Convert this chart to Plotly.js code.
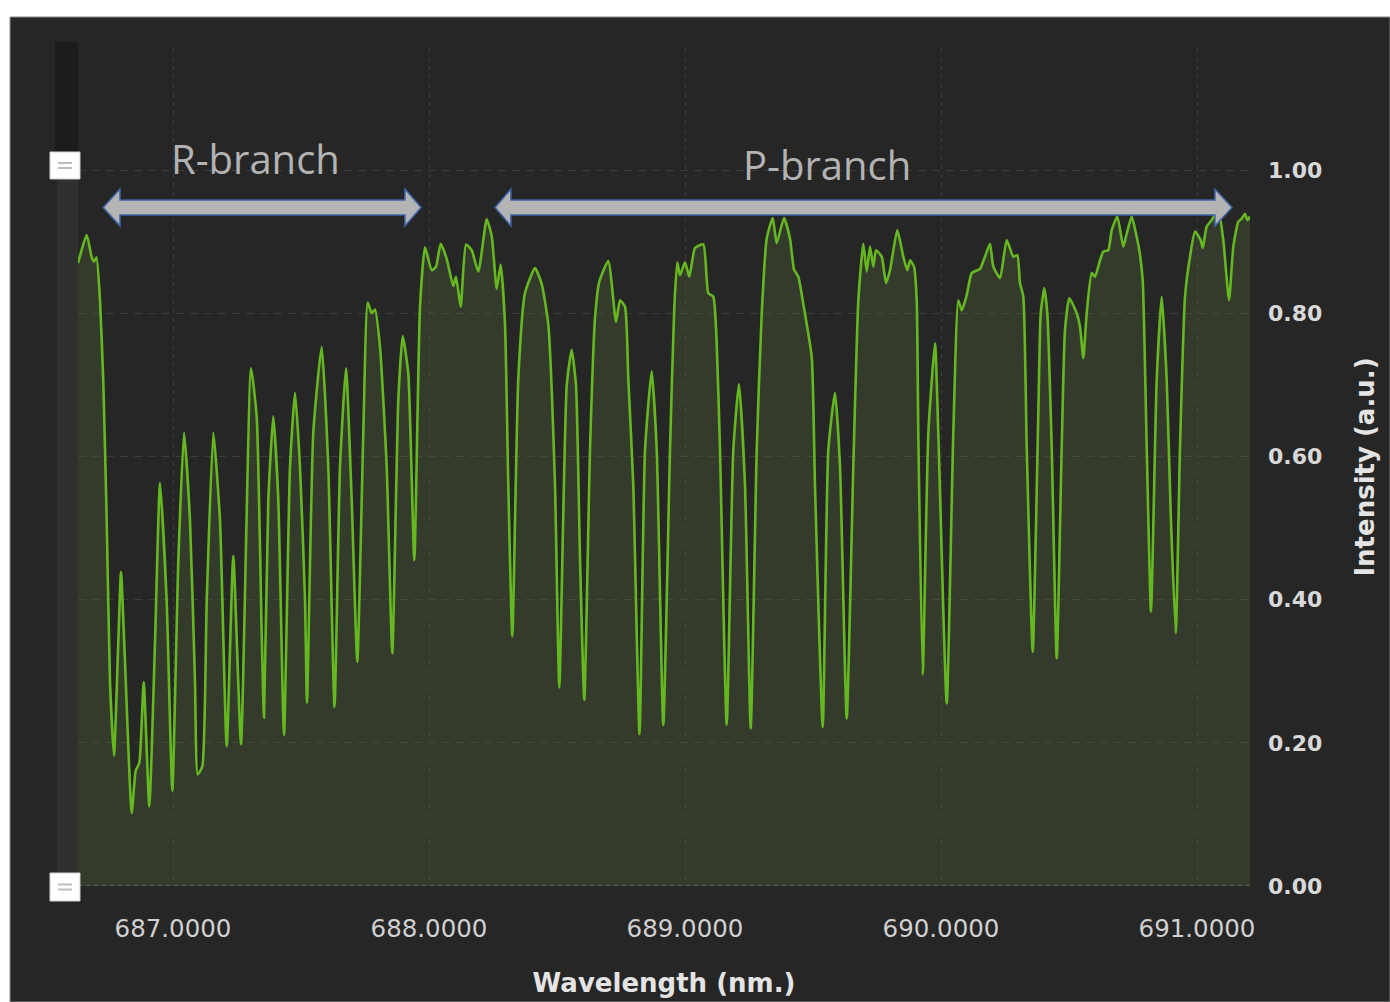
<!DOCTYPE html>
<html><head><meta charset="utf-8">
<script src="https://cdn.plot.ly/plotly-3.0.1.min.js"></script>
<style>html,body{margin:0;padding:0;background:#fff;}#chart{width:1390px;height:1002px;}</style>
</head><body><div id="chart"></div>
<script>
// Spectrum values
const wavelength = [
686.6289,686.6629,686.6824,686.6914,686.7012,686.7148,686.7277,686.7410,686.7539,686.7695,
686.7863,686.7969,686.8125,686.8387,686.8543,686.8684,686.8855,686.9074,686.9297,686.9492,
686.9754,686.9973,687.0207,687.0430,687.0664,687.0859,687.0965,687.1145,687.1316,687.1574,
687.1836,687.2098,687.2355,687.2656,687.3047,687.3270,687.3465,687.3555,687.3723,687.3918,
687.4113,687.4336,687.4570,687.4766,687.4961,687.5156,687.5234,687.5480,687.5809,687.6066,
687.6309,687.6523,687.6758,687.6980,687.7199,687.7434,687.7605,687.7762,687.7891,687.8086,
687.8348,687.8566,687.8801,687.8973,687.9191,687.9426,687.9648,687.9844,688.0105,688.0273,
688.0457,688.0691,688.0949,688.1055,688.1238,688.1445,688.1668,688.1926,688.2254,688.2449,
688.2645,688.2801,688.2969,688.3098,688.3254,688.3488,688.3750,688.4141,688.4402,688.4660,
688.4922,688.5090,688.5379,688.5574,688.5742,688.5898,688.6066,688.6289,688.6484,688.6652,
688.7004,688.7305,688.7461,688.7656,688.7785,688.7980,688.8223,688.8438,688.8699,688.8895,
688.9152,688.9414,688.9582,688.9699,688.9805,689.0000,689.0168,689.0391,689.0715,689.0910,
689.1105,689.1238,689.1367,689.1629,689.1887,689.2109,689.2344,689.2566,689.2801,689.2996,
689.3191,689.3426,689.3582,689.3867,689.4102,689.4258,689.4426,689.4621,689.4949,689.5078,
689.5379,689.5598,689.5859,689.6055,689.6316,689.6574,689.6770,689.6965,689.7098,689.7227,
689.7355,689.7461,689.7684,689.7852,689.8008,689.8293,689.8527,689.8684,689.8789,689.8945,
689.9051,689.9113,689.9285,689.9504,689.9766,689.9895,690.0223,690.0480,690.0676,690.0809,
690.1004,690.1199,690.1523,690.1719,690.1914,690.2043,690.2305,690.2566,690.2824,690.2980,
690.3086,690.3215,690.3348,690.3582,690.3801,690.3895,690.4035,690.4152,690.4324,690.4520,
690.4715,690.4844,690.5012,690.5301,690.5430,690.5559,690.5691,690.5887,690.6016,690.6211,
690.6340,690.6535,690.6668,690.6887,690.7121,690.7254,690.7449,690.7617,690.7746,690.7879,
690.8035,690.8203,690.8426,690.8621,690.8816,690.8973,690.9168,690.9336,690.9531,690.9727,
690.9922,691.0145,691.0223,691.0379,691.0574,691.0832,691.1027,691.1250,691.1418,691.1613,
691.1746,691.1875,691.1965,691.2070
];
const intensity = [
0.870,0.909,0.878,0.872,0.878,0.818,0.705,0.510,0.285,0.182,
0.340,0.439,0.313,0.102,0.161,0.172,0.285,0.111,0.341,0.563,
0.397,0.133,0.453,0.633,0.510,0.285,0.156,0.167,0.397,0.633,
0.510,0.195,0.461,0.198,0.723,0.655,0.353,0.235,0.539,0.656,
0.539,0.211,0.585,0.689,0.585,0.400,0.256,0.633,0.753,0.585,
0.250,0.585,0.723,0.539,0.313,0.633,0.815,0.800,0.805,0.753,
0.585,0.325,0.679,0.768,0.716,0.455,0.809,0.892,0.860,0.865,
0.897,0.876,0.838,0.851,0.809,0.896,0.888,0.858,0.931,0.908,
0.834,0.868,0.784,0.559,0.349,0.709,0.828,0.863,0.841,0.784,
0.559,0.277,0.699,0.749,0.699,0.459,0.260,0.609,0.793,0.844,
0.873,0.788,0.818,0.809,0.709,0.559,0.212,0.609,0.719,0.609,
0.225,0.609,0.809,0.871,0.853,0.871,0.851,0.891,0.896,0.828,
0.823,0.758,0.609,0.225,0.609,0.701,0.559,0.220,0.609,0.799,
0.904,0.933,0.898,0.933,0.904,0.861,0.851,0.813,0.739,0.559,
0.222,0.609,0.689,0.585,0.234,0.585,0.818,0.897,0.858,0.893,
0.865,0.888,0.879,0.842,0.860,0.916,0.879,0.860,0.874,0.865,
0.818,0.632,0.295,0.632,0.758,0.632,0.255,0.632,0.818,0.804,
0.825,0.856,0.862,0.879,0.897,0.865,0.849,0.902,0.879,0.881,
0.842,0.823,0.613,0.327,0.660,0.800,0.835,0.800,0.613,0.318,
0.613,0.777,0.821,0.800,0.781,0.737,0.800,0.856,0.851,0.874,
0.886,0.888,0.916,0.935,0.893,0.911,0.935,0.911,0.888,0.846,
0.613,0.383,0.707,0.823,0.707,0.520,0.353,0.613,0.823,0.879,
0.914,0.902,0.891,0.921,0.930,0.944,0.902,0.818,0.893,0.928,
0.932,0.939,0.930,0.935
];
const xTickVals = [687, 688, 689, 690, 691];
const yTickVals = [0, 0.2, 0.4, 0.6, 0.8, 1.0];
const branchLabels = ['R-branch', 'P-branch'];
const branchLabelX = [687.3203, 689.5547];
const branchLabelY = [1.016, 1.008];
// arrow extents in wavelength: [left tip, left head base, right head base, right tip]
const rArrow = [686.727, 686.793, 687.906, 687.969];
const pArrow = [688.258, 688.320, 691.070, 691.137];

function arrowPath(a, yc) {
  const st = 0.0105, hd = 0.0258;
  return 'M' + a[0] + ',' + yc +
    ' L' + a[1] + ',' + (yc + hd) + ' L' + a[1] + ',' + (yc + st) +
    ' L' + a[2] + ',' + (yc + st) + ' L' + a[2] + ',' + (yc + hd) +
    ' L' + a[3] + ',' + yc +
    ' L' + a[2] + ',' + (yc - hd) + ' L' + a[2] + ',' + (yc - st) +
    ' L' + a[1] + ',' + (yc - st) + ' L' + a[1] + ',' + (yc - hd) + ' Z';
}

const trace = {
  x: wavelength, y: intensity, type: 'scatter', mode: 'lines',
  line: {color: '#66b820', width: 2.6, shape: 'spline', smoothing: 0.5},
  fill: 'tozeroy', fillcolor: 'rgba(90,110,60,0.3)',
  hoverinfo: 'skip'
};

const shapes = [
  {type:'rect', xref:'paper', yref:'paper', x0:-0.0580, x1:1.1195, y0:-0.1384, y1:1.037, fillcolor:'#262626', line:{color:'#8a8a8a', width:1}, layer:'below'},
  {type:'rect', xref:'paper', yref:'paper', x0:-0.0196, x1:0, y0:0.8759, y1:1.0072, fillcolor:'#1c1c1c', line:{width:0}, layer:'below'},
  {type:'rect', xref:'paper', yref:'paper', x0:-0.0179, x1:0, y0:0.0, y1:0.8759, fillcolor:'#303030', line:{width:0}, layer:'below'},
  {type:'line', xref:'paper', yref:'y', x0:0, x1:1, y0:0, y1:0, line:{color:'#6a6a6a', width:1.5, dash:'4px,4px'}, layer:'below'},
  {type:'rect', xref:'paper', yref:'paper', x0:-0.02389, x1:0.0017, y0:0.8437, y1:0.8759, fillcolor:'#ffffff', line:{color:'#d0d0d0', width:1}, layer:'above'},
  {type:'line', xref:'paper', yref:'paper', x0:-0.01706, x1:-0.00512, y0:0.8628, y1:0.8628, line:{color:'#bdbdbd', width:2}, layer:'above'},
  {type:'line', xref:'paper', yref:'paper', x0:-0.01706, x1:-0.00512, y0:0.8568, y1:0.8568, line:{color:'#bdbdbd', width:2}, layer:'above'},
  {type:'rect', xref:'paper', yref:'paper', x0:-0.02389, x1:0.0017, y0:-0.0179, y1:0.0155, fillcolor:'#ffffff', line:{color:'#d0d0d0', width:1}, layer:'above'},
  {type:'line', xref:'paper', yref:'paper', x0:-0.01706, x1:-0.00512, y0:0.0018, y1:0.0018, line:{color:'#bdbdbd', width:2}, layer:'above'},
  {type:'line', xref:'paper', yref:'paper', x0:-0.01706, x1:-0.00512, y0:-0.0042, y1:-0.0042, line:{color:'#bdbdbd', width:2}, layer:'above'},
  {type:'path', xref:'x', yref:'y', path: arrowPath(rArrow, 0.9476), fillcolor:'#b4b4b4', line:{color:'#3b63a6', width:1.5}, layer:'above'},
  {type:'path', xref:'x', yref:'y', path: arrowPath(pArrow, 0.9476), fillcolor:'#b4b4b4', line:{color:'#3b63a6', width:1.5}, layer:'above'}
];

const annotations = branchLabels.map((t, i) => ({
  text: t, x: branchLabelX[i], y: branchLabelY[i], xref:'x', yref:'y',
  showarrow:false, xanchor:'center', yanchor:'middle',
  font:{family:'Open Sans, sans-serif', size:40, color:'#b3b3b3'}
}));

const layout = {
  width:1390, height:1002,
  margin:{l:78, r:140, t:48, b:116, pad:0},
  paper_bgcolor:'#ffffff', plot_bgcolor:'rgba(0,0,0,0)',
  showlegend:false,
  xaxis:{
    range:[686.6289, 691.2070], tickvals:xTickVals, tickformat:'.4f',
    showgrid:true, gridcolor:'#3d3d3d', griddash:'4px,5px', gridwidth:1,
    zeroline:false, showline:false, ticks:'', ticklabelstandoff:25,
    tickfont:{family:'DejaVu Sans, sans-serif', size:24.5, color:'#d0d0d0'},
    title:{text:'Wavelength (nm.)', standoff:32, font:{family:'DejaVu Sans, sans-serif', size:26, color:'#e4e4e4', weight:'bold'}},
    fixedrange:true
  },
  yaxis:{
    side:'right', range:[0, 1.1704], tickvals:yTickVals, tickformat:'.2f',
    showgrid:true, gridcolor:'#3d3d3d', griddash:'8px,6px', gridwidth:1,
    zeroline:false, showline:false, ticks:'', ticklabelstandoff:17,
    tickfont:{family:'DejaVu Sans, sans-serif', size:22, color:'#d8d8d8', weight:'bold'},
    title:{text:'Intensity (a.u.)', standoff:34, font:{family:'DejaVu Sans, sans-serif', size:26, color:'#e4e4e4', weight:'bold'}},
    fixedrange:true
  },
  shapes: shapes,
  annotations: annotations
};

Plotly.newPlot('chart', [trace], layout, {displayModeBar:false, staticPlot:true});
</script>
</body></html>
